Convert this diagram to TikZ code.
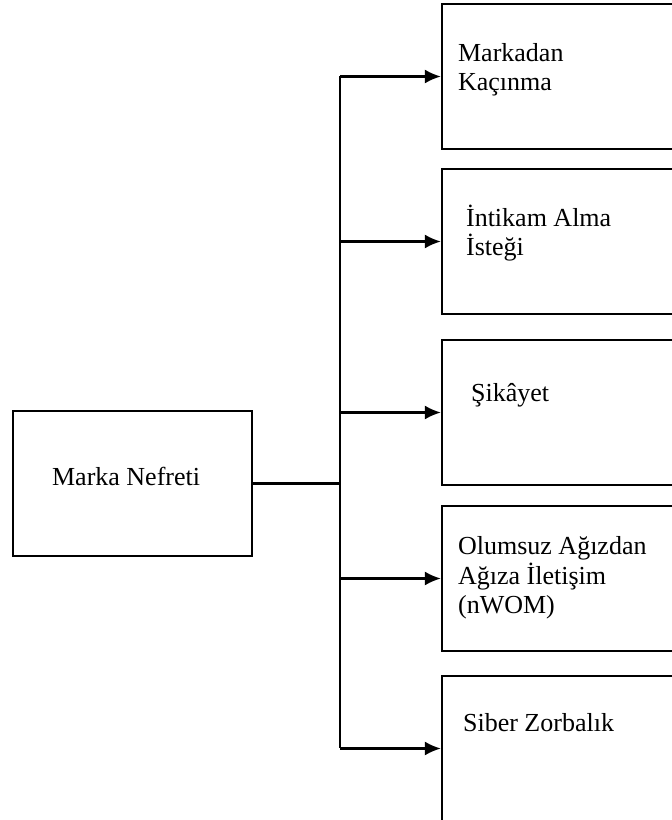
\documentclass[tikz,border=0pt]{standalone}
\usepackage{fontspec}
\setmainfont{Liberation Serif}
\usetikzlibrary{arrows.meta,positioning,calc}
\tikzset{
  kutu/.style={draw, line width=2.2pt, minimum width=240pt, minimum height=145pt, inner sep=0pt},
  yazi/.style={anchor=base west, inner sep=0pt, align=left, font=\fontsize{26}{29.5}\selectfont},
  ok/.style={line width=2.2pt, -{Latex[length=16pt,width=14pt]}},
  cizgi/.style={line width=2.2pt}
}
\begin{document}
\begin{tikzpicture}[x=1pt,y=1pt]
		\useasboundingbox (0,0) rectangle (672,820);
		%%%%% START %%%%%
		
		\node[kutu, minimum width=239pt] (nefret) at (132.5,336.5) {};
		\node[yazi] (tnefret) at ($(nefret.north west)+(40,-76)$) {Marka Nefreti};
		
		\node[kutu] (kacinma) at (562,743.5) {};
		\node[kutu] (intikam) at (562,578.5) {};
		\node[kutu] (sikayet) at (562,407.5) {};
		\node[kutu] (nwom) at (562,241.5) {};
		\node[kutu] (siber) at (562,71.5) {};
		
		% base = son satir
		\node[yazi] (tkacinma) at ($(kacinma.north west)+(17,-88)$) {Markadan\\Kaçınma};
		\node[yazi] (tintikam) at ($(intikam.north west)+(25,-88)$) {İntikam Alma\\İsteği};
		\node[yazi] (tsikayet) at ($(sikayet.north west)+(30,-63)$) {Şikâyet};
		\node[yazi] (tnwom) at ($(nwom.north west)+(17,-109)$) {Olumsuz Ağızdan\\Ağıza İletişim\\(nWOM)};
		\node[yazi] (tsiber) at ($(siber.north west)+(22,-57)$) {Siber Zorbalık};
		
		% govde
		\coordinate (govde) at ($(nefret.east)+(87,0)$);
		\draw[cizgi] (nefret.east) -- (govde);
		\draw[cizgi] (govde |- kacinma.west) -- (govde |- siber.west);
		
		\foreach \k in {kacinma,intikam,sikayet,nwom,siber}
			\draw[ok] (govde |- \k.west) -- (\k.west);
		
		%%%%% END %%%%%
\end{tikzpicture}
\end{document}
